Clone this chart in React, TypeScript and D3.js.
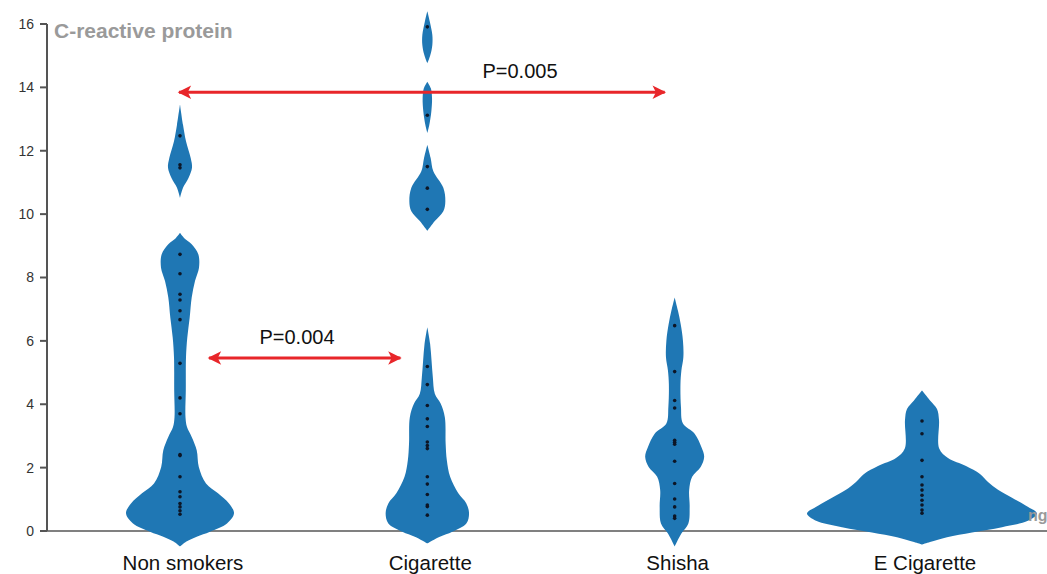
import React from "react";
import * as d3 from "d3";

// ---------- data ----------
const categories = ["Non smokers", "Cigarette", "Shisha", "E Cigarette"];

// violin density profiles: segments of [CRP value, relative density]
const nonSmokersProfile: [number, number][][] = [
  [[13.46, 0], [12.82, 3], [12.3, 6], [11.77, 10.7], [11.46, 12], [11.14, 8.5], [10.83, 3], [10.51, 0]],
  [[9.41, 0], [9.25, 4], [9.05, 11.7], [8.73, 18.3], [8.31, 19], [7.89, 15], [7.37, 11.7], [6.74, 9.7], [6.11, 7.3], [5.48, 6], [4.43, 5.8], [3.59, 5.5], [3.28, 7], [2.97, 11.7], [2.55, 16.7], [2.02, 18.8], [1.5, 26], [1.19, 38], [0.87, 49], [0.56, 54], [0.24, 47], [-0.02, 30], [-0.18, 16.7], [-0.34, 6], [-0.49, 0]],
];
const cigaretteProfile: [number, number][][] = [
  [[16.4, 0], [16.07, 2.5], [15.65, 5], [15.34, 5], [15.02, 3], [14.76, 0]],
  [[14.18, 0], [13.97, 3.5], [13.66, 4.7], [13.24, 4], [12.82, 2], [12.56, 0]],
  [[12.19, 0], [11.77, 3.3], [11.35, 6], [10.83, 16], [10.41, 18], [10.09, 16], [9.78, 7.5], [9.47, 0]],
  [[6.43, 0], [5.9, 2.8], [5.38, 4.2], [4.85, 5.5], [4.33, 7.5], [4.02, 13.3], [3.59, 17.5], [2.76, 18.3], [2.23, 19.5], [1.71, 22.8], [1.19, 31], [0.87, 39], [0.56, 41.7], [0.24, 39], [-0.02, 25], [-0.18, 12.5], [-0.39, 0]],
];
const shishaProfile: [number, number][][] = [
  [[7.37, 0], [6.95, 3.3], [6.53, 6], [6.0, 8.3], [5.48, 8.7], [5.06, 6.7], [4.64, 5.8], [3.91, 6.3], [3.39, 8.3], [3.07, 20], [2.65, 26.7], [2.34, 29.5], [2.02, 26], [1.71, 17.5], [1.29, 14.5], [0.76, 15], [0.24, 13.7], [-0.08, 6.7], [-0.49, 0]],
];
const eCigaretteProfile: [number, number][][] = [
  [[4.43, 0], [4.12, 8], [3.85, 15], [3.5, 17], [2.6, 17.2], [2.3, 26], [2.05, 44], [1.8, 58], [1.55, 66], [1.3, 76], [1.05, 90], [0.8, 104], [0.55, 115], [0.32, 106], [0.12, 80], [-0.05, 50], [-0.2, 25], [-0.35, 8], [-0.43, 0]],
];

// individual observations
const nonSmokersPoints = [12.47, 11.56, 11.46, 8.73, 8.12, 7.47, 7.29, 6.95, 6.67, 5.29, 4.2, 3.7, 2.41, 2.38, 1.71, 1.24, 1.08, 0.87, 0.76, 0.64, 0.53];
const cigarettePoints = [15.91, 13.12, 11.5, 10.82, 10.15, 5.19, 4.62, 3.96, 3.54, 3.3, 2.81, 2.7, 2.6, 1.71, 1.48, 1.15, 0.82, 0.77, 0.5];
const shishaPoints = [6.48, 5.03, 4.12, 3.88, 2.86, 2.8, 2.74, 2.2, 1.5, 1.01, 0.76, 0.47, 0.4];
const eCigarettePoints = [3.47, 3.07, 2.23, 1.71, 1.45, 1.29, 1.13, 0.97, 0.82, 0.66, 0.56];

const yTicks = [0, 2, 4, 6, 8, 10, 12, 14, 16];

// comparisons
const comparisonFrom = ["Non smokers", "Non smokers"];
const comparisonTo = ["Shisha", "Cigarette"];
const comparisonLevel = [13.85, 5.46];
const comparisonLabel = ["P=0.005", "P=0.004"];

const profiles = [nonSmokersProfile, cigaretteProfile, shishaProfile, eCigaretteProfile];
const pointsets = [nonSmokersPoints, cigarettePoints, shishaPoints, eCigarettePoints];

// ---------- layout ----------
const W = 1047;
const H = 574;
const BLUE = "#1f77b4";
const RED = "#e8262a";

export default function App() {
  const x = d3.scalePoint<string>().domain(categories).range([180, 922]);
  const y = d3.scaleLinear().domain([0, 16]).range([531, 24]);
  const w = d3.scaleLinear().domain([0, 115]).range([0, 115]);

  const area = (cx: number) =>
    d3
      .area<[number, number]>()
      .y((d) => y(d[0]))
      .x0((d) => cx - w(d[1]))
      .x1((d) => cx + w(d[1]))
      .curve(d3.curveCatmullRom.alpha(0.5));

  const arrowFromOff = [-3, 27];
  const arrowToOff = [-8, -25];
  const labelX = [520, 297];

  return (
    <svg
      width={W}
      height={H}
      style={{ position: "absolute", left: 0, top: 0, background: "#fff" }}
      fontFamily="Liberation Sans, Arial, sans-serif"
    >
      <defs>
        <marker id="ah" viewBox="0 0 10 10" refX="9" refY="5" markerWidth="5" markerHeight="4.5" orient="auto-start-reverse" markerUnits="strokeWidth">
          <path d="M0,0 L10,5 L0,10 L2.5,5 Z" fill={RED} />
        </marker>
      </defs>

      {/* x axis line */}
      <line x1={40} x2={W} y1={y(0)} y2={y(0)} stroke="#808080" strokeWidth={2.2} />

      {/* y axis */}
      <line x1={47} x2={47} y1={y(16)} y2={y(0)} stroke="#555" strokeWidth={2} />
      {yTicks.map((t) => (
        <g key={t}>
          <line x1={40} x2={47} y1={y(t)} y2={y(t)} stroke="#555" strokeWidth={2} />
          <text x={34} y={y(t)} dy="0.35em" textAnchor="end" fontSize={14} fill="#333">
            {t}
          </text>
        </g>
      ))}
      <text x={54} y={38} fontSize={21} fontWeight="bold" fill="#9a9a9a">
        C-reactive protein
      </text>

      {/* violins */}
      {categories.map((c, i) => {
        const cx = x(c)!;
        return (
          <g key={c}>
            {profiles[i].map((seg, j) => (
              <path key={j} d={area(cx)(seg) || ""} fill={BLUE} />
            ))}
            {pointsets[i].map((v, k) => (
              <circle key={k} cx={cx} cy={y(v)} r={1.8} fill="#0d1626" />
            ))}
          </g>
        );
      })}

      <text x={1028} y={521} fontSize={16} fontWeight="bold" fill="#9a9a9a">
        ng
      </text>

      {/* category labels */}
      {categories.map((c) => (
        <text key={c} x={x(c)! + 3} y={570} textAnchor="middle" fontSize={20.5} fill="#111">
          {c}
        </text>
      ))}

      {/* comparisons */}
      {comparisonLabel.map((lab, i) => {
        const x1 = x(comparisonFrom[i])! + arrowFromOff[i];
        const x2 = x(comparisonTo[i])! + arrowToOff[i];
        const yy = y(comparisonLevel[i]);
        return (
          <g key={lab}>
            <line x1={x1 + 2} x2={x2 - 2} y1={yy} y2={yy} stroke={RED} strokeWidth={3} markerStart="url(#ah)" markerEnd="url(#ah)" />
            <text x={labelX[i]} y={yy - 14} textAnchor="middle" fontSize={20} fill="#111">
              {lab}
            </text>
          </g>
        );
      })}
    </svg>
  );
}
